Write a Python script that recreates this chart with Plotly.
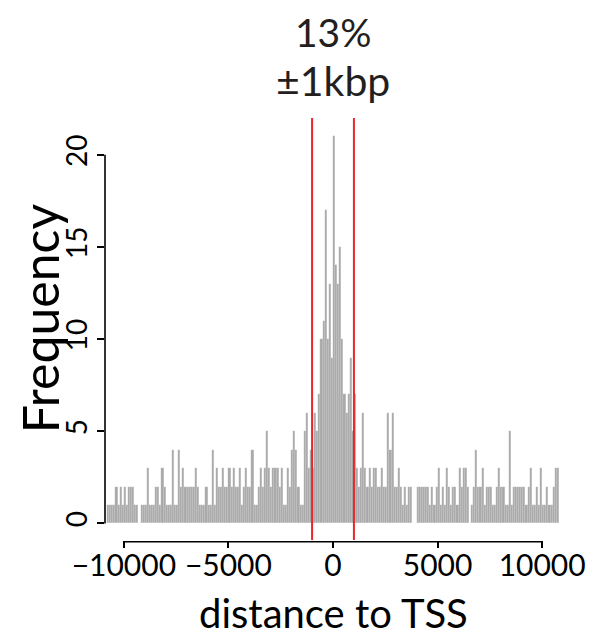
import numpy as np
import plotly.graph_objects as go

# ---- data (histogram of distance to TSS, 100 bp bins starting at -10800) ----
bin_start = -10800
bin_width = 100
counts = [
    1, 1, 1, 1, 2, 1, 2, 1, 2, 1,
    2, 2, 2, 1, 1, 0, 1, 1, 1, 3,
    1, 1, 1, 2, 2, 1, 3, 2, 1, 1,
    1, 4, 1, 1, 4, 2, 3, 2, 2, 2,
    2, 2, 3, 2, 1, 1, 1, 2, 1, 1,
    4, 1, 3, 2, 2, 3, 2, 2, 3, 2,
    3, 2, 2, 3, 1, 2, 3, 2, 2, 4,
    1, 1, 2, 3, 2, 3, 5, 3, 2, 3,
    3, 3, 2, 3, 1, 1, 3, 2, 4, 5,
    4, 2, 1, 1, 5, 6, 3, 4, 3, 6,
    5, 7, 10, 11, 17, 10, 13, 9, 21, 14,
    13, 15, 10, 7, 6, 7, 9, 5, 7, 3,
    2, 3, 6, 3, 2, 3, 2, 3, 3, 2,
    2, 3, 2, 2, 6, 4, 6, 2, 2, 3,
    2, 1, 2, 1, 2, 2, 0, 0, 2, 2,
    2, 2, 2, 2, 1, 2, 1, 2, 3, 1,
    2, 1, 3, 2, 1, 2, 2, 1, 3, 2,
    3, 3, 2, 0, 1, 2, 4, 2, 2, 3,
    1, 2, 2, 2, 1, 1, 2, 3, 2, 2,
    1, 1, 5, 1, 2, 2, 2, 2, 2, 2,
    1, 2, 3, 1, 1, 2, 1, 3, 1, 1,
    2, 1, 1, 2, 3, 3,
]
window_bp = [-1000, 1000]          # +/- 1 kbp marks
window_label = ["13%", "\u00b11kbp"]
x_ticks = [-10000, -5000, 0, 5000, 10000]
x_ticktext = ["\u221210000", "\u22125000", "0", "5000", "10000"]
y_ticks = [0, 5, 10, 15, 20]

centers = bin_start + bin_width * (np.arange(len(counts)) + 0.5)

FONT = "Lato"
fig = go.Figure()
fig.add_trace(go.Bar(
    x=centers, y=counts, width=bin_width,
    marker=dict(color="#a9a9a9", line=dict(color="rgba(255,255,255,0.25)", width=0.4)),
    showlegend=False, hoverinfo="x+y",
))

# red window lines
for wx in window_bp:
    fig.add_shape(type="line", xref="x", yref="paper", x0=wx, x1=wx, y0=0, y1=1,
                  line=dict(color="#e8262b", width=2))

# R-style axis lines spanning only the tick range
fig.add_shape(type="line", xref="x", yref="paper", x0=x_ticks[0], x1=x_ticks[-1],
              y0=-0.004, y1=-0.004, line=dict(color="black", width=1.6))
fig.add_shape(type="line", xref="paper", yref="y", x0=0, x1=0,
              y0=y_ticks[0], y1=y_ticks[-1], line=dict(color="black", width=1.6))

fig.add_annotation(text=window_label[0], xref="x", yref="paper", x=0, y=1.203,
                   xanchor="center", yanchor="middle",
                   showarrow=False, font=dict(family=FONT, size=39, color="#231f20"))
fig.add_annotation(text=window_label[1], xref="x", yref="paper", x=0, y=1.09,
                   xanchor="center", yanchor="middle",
                   showarrow=False, font=dict(family=FONT, size=41, color="#231f20"))
fig.add_annotation(text="Frequency", xref="paper", yref="paper", x=-0.142, y=0.526,
                   xanchor="center", yanchor="middle",
                   textangle=-90, showarrow=False,
                   font=dict(family=FONT, size=50, color="black"))
fig.add_annotation(text="distance to TSS", xref="paper", yref="paper", x=0.5, y=-0.173,
                   xanchor="center", yanchor="middle",
                   showarrow=False, font=dict(family=FONT, size=40, color="black"))

fig.update_layout(
    width=600, height=641,
    margin=dict(l=97, r=47, t=110, b=109, autoexpand=False),
    plot_bgcolor="white", paper_bgcolor="white",
    bargap=0,
    xaxis=dict(range=[-10900, 10900], tickvals=x_ticks, ticktext=x_ticktext,
               ticks="outside", ticklen=7, tickwidth=1.6, tickcolor="black",
               ticklabelstandoff=-8,
               showgrid=False, zeroline=False, showline=False,
               tickfont=dict(family=FONT, size=30, color="black")),
    yaxis=dict(range=[-0.9, 22], tickvals=y_ticks, ticks="outside", ticklen=7,
               tickwidth=1.6, tickcolor="black", tickangle=-90,
               ticklabelstandoff=-1,
               showgrid=False, zeroline=False, showline=False,
               tickfont=dict(family=FONT, size=28, color="black")),
)

fig.write_html("out.html")
